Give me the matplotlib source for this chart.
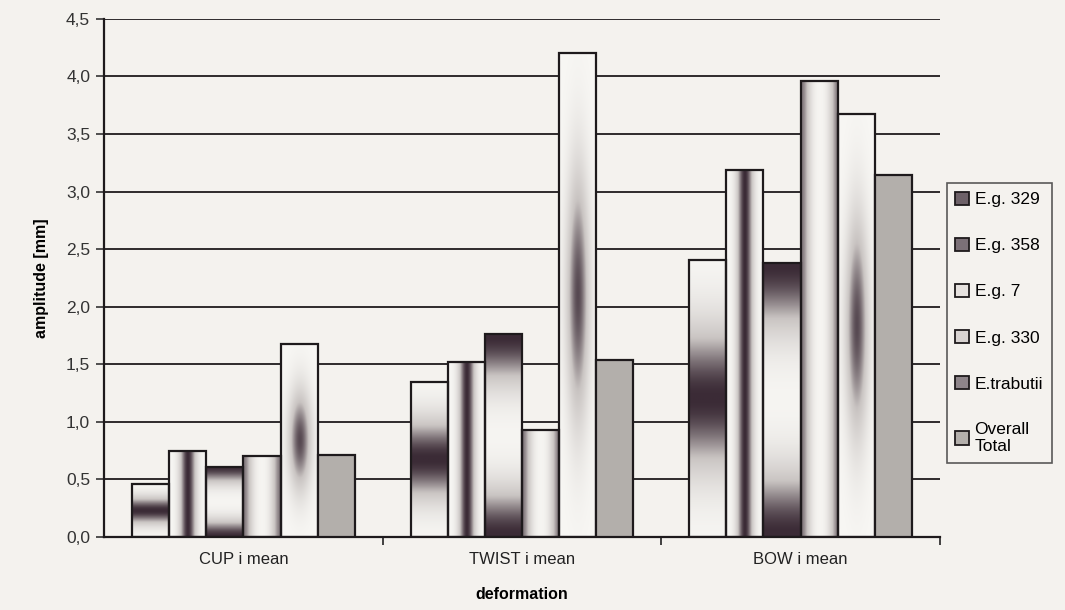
import numpy as np
import matplotlib
matplotlib.use("Agg")
import matplotlib.pyplot as plt
from matplotlib.patches import Patch
from matplotlib.colors import LinearSegmentedColormap
from matplotlib.ticker import FuncFormatter, MultipleLocator

plt.rcParams['font.family'] = ['Liberation Sans', 'DejaVu Sans']

# data
categories = ["CUP i mean", "TWIST i mean", "BOW i mean"]
series = ["E.g. 329", "E.g. 358", "E.g. 7", "E.g. 330", "E.trabutii", "Overall\nTotal"]
eg329 = [0.46, 1.35, 2.41]
eg358 = [0.75, 1.52, 3.19]
eg7 = [0.61, 1.76, 2.38]
eg330 = [0.70, 0.93, 3.96]
trabutii = [1.68, 4.20, 3.67]
overall = [0.71, 1.54, 3.14]
values = [eg329, eg358, eg7, eg330, trabutii, overall]

paper = "#f4f2ee"
dark = "#3b2b36"
cmap = LinearSegmentedColormap.from_list("shade", ["#f8f7f4", "#c9c4c2", dark])

# gradient styles for each series (0 = light, 1 = dark)
def fill_pattern(kind):
    u = np.linspace(0, 1, 80)
    X, Y = np.meshgrid(u, u)  # Y=0 bottom
    if kind == 0:   # dark horizontal band in the middle
        return np.exp(-((Y - 0.5) / 0.26) ** 2)
    if kind == 1:   # dark vertical stripe
        return np.exp(-((X - 0.5) / 0.22) ** 2)
    if kind == 2:   # dark top and bottom
        return np.exp(-(Y / 0.24) ** 2) + np.exp(-((1 - Y) / 0.24) ** 2)
    if kind == 3:   # dark left and right edges
        return 0.75 * (np.exp(-(X / 0.25) ** 2) + np.exp(-((1 - X) / 0.25) ** 2))
    if kind == 4:   # dark spot in centre
        return 0.9 * np.exp(-((X - 0.5) / 0.3) ** 2 - ((Y - 0.5) / 0.26) ** 2)
    return None

fig = plt.figure(figsize=(10.65, 6.10), dpi=100, facecolor=paper)
ax = fig.add_axes([0.0977, 0.1197, 0.7849, 0.8493], facecolor=paper)

x = np.arange(len(categories))
n = len(series)
group = 0.80
w = group / n

for i, vals in enumerate(values):
    offs = x - group / 2 + w * (i + 0.5)
    bars = ax.bar(offs, vals, width=w, color="#b3afab" if i == 5 else "none",
                  edgecolor="#1e1a1c", linewidth=1.6, zorder=3)
    pat = fill_pattern(i)
    if pat is None:
        continue
    for b in bars:
        x0, y0 = b.get_x(), b.get_y()
        im = ax.imshow(np.clip(pat, 0, 1), cmap=cmap, vmin=0, vmax=1, origin="lower",
                       extent=[x0, x0 + b.get_width(), y0, y0 + b.get_height()],
                       aspect="auto", interpolation="bilinear", zorder=2.5)
        im.set_clip_path(b)

ax.set_xlim(-0.5, 2.5)
ax.set_ylim(0, 4.5)
ax.yaxis.set_major_locator(MultipleLocator(0.5))
ax.yaxis.set_major_formatter(FuncFormatter(lambda v, p: f"{v:.1f}".replace(".", ",")))
ax.grid(axis="y", color="#2e2a2c", linewidth=1.4, zorder=1)
ax.set_axisbelow(True)

ax.set_xticks(x)
ax.set_xticklabels(categories)
ax.tick_params(axis="x", length=0, pad=11, labelsize=12, colors="#222")
ax.set_xticks([0.5, 1.5, 2.5], minor=True)
ax.tick_params(axis="x", which="minor", length=6, width=1.2, color="#222")
ax.tick_params(axis="y", length=6, width=1.2, labelsize=12.5, colors="#333", pad=4)

for s in ["top", "right"]:
    ax.spines[s].set_visible(False)
for s in ["left", "bottom"]:
    ax.spines[s].set_linewidth(1.6)
    ax.spines[s].set_color("#1e1a1c")

ax.set_ylabel("amplitude [mm]", fontsize=11.5, fontweight="bold", labelpad=12)
ax.set_xlabel("deformation", fontsize=11.5, fontweight="bold", labelpad=14)

legend_faces = ["#6d6168", "#7b7077", "#e6e2df", "#d8d3d1", "#8e858a", "#b3afab"]
handles = [Patch(facecolor=c, edgecolor="#1e1a1c", linewidth=1.3) for c in legend_faces]
leg = fig.legend(handles, series, loc="upper left", bbox_to_anchor=(0.889, 0.70),
                 frameon=True, fancybox=False, edgecolor="#333", facecolor=paper,
                 fontsize=12.5, handlelength=0.8, handleheight=0.8, handletextpad=0.3,
                 labelspacing=1.75, borderpad=0.5, borderaxespad=0)
leg.get_frame().set_linewidth(1.2)

fig.savefig("out.png", dpi=100, facecolor=paper)
